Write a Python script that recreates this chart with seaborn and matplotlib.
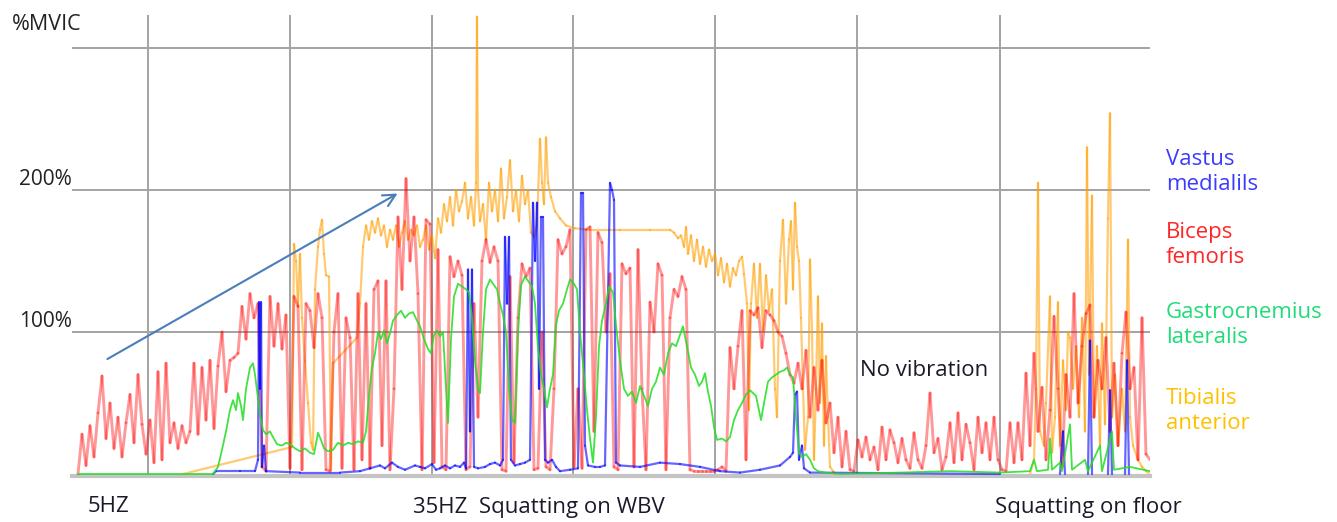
import numpy as np
import pandas as pd
import matplotlib
matplotlib.use("Agg")
import matplotlib.pyplot as plt
import seaborn as sns

# ---------------- data (sample index, %MVIC) ----------------
red_start, red_step = 78, 4
red_vals = [
    0, 28, 6, 34, 12, 43, 69, 25, 50, 18,
    40, 12, 36, 56, 22, 70, 35, 14, 38, 8,
    72, 10, 78, 22, 36, 18, 34, 22, 30, 78,
    28, 75, 38, 80, 32, 76, 100, 58, 80, 82,
    85, 118, 95, 127, 110, 120, 5, 2, 125, 90,
    120, 88, 112, 4, 125, 118, 3, 120, 115, 89,
    127, 110, 3, 2, 100, 127, 4, 110, 96, 3,
    127, 10, 120, 4, 130, 136, 20, 136, 3, 60,
    181, 130, 208, 150, 181, 127, 3, 179, 176, 8,
    158, 5, 3, 153, 139, 150, 140, 3, 5, 120,
    40, 150, 165, 149, 160, 150, 3, 2, 139, 8,
    110, 148, 139, 145, 3, 4, 100, 5, 3, 60,
    165, 155, 160, 172, 5, 60, 4, 172, 174, 30,
    170, 163, 100, 141, 5, 3, 148, 141, 145, 5,
    158, 60, 3, 121, 100, 148, 140, 3, 110, 130,
    125, 139, 130, 3, 2, 2, 2, 2, 2, 2,
    3, 5, 2, 89, 60, 90, 115, 10, 115, 112,
    117, 89, 115, 112, 108, 100, 97, 85, 70, 64,
    78, 60, 87, 40, 75, 45, 80, 36, 50, 15,
    40, 5, 30, 3, 2, 24, 12, 26, 10, 19,
    3, 33, 10, 31, 22, 8, 25, 10, 4, 29,
    10, 4, 20, 57, 15, 25, 3, 12, 36, 8,
    43, 10, 35, 22, 3, 40, 15, 36, 10, 40,
    10, 3, 2, 36, 8, 36, 10, 71, 20, 85,
    30, 61, 10, 45, 111, 60, 5, 70, 40, 127,
    50, 90, 113, 119, 40, 80, 60, 96, 30, 78,
    20, 85, 114, 60, 75, 10, 110, 14, 10,
]

orange_x = [78, 183, 292, 294, 296, 298, 300, 302, 305, 308, 311, 313, 315, 318, 320, 322, 324, 326, 329, 331,
            333, 357, 360, 363, 366, 369, 372, 375, 378, 381, 384, 387, 390, 393, 396, 399, 402, 405, 408, 411,
            414, 417, 420, 423, 426, 429, 432, 435, 438, 441, 444, 447, 450, 453, 456, 459, 462, 465, 468, 471,
            474, 476, 477, 478, 480, 483, 486, 489, 492, 495, 498, 501, 504, 507, 510, 513, 516, 519, 522, 525,
            528, 531, 534, 537, 540, 542, 544, 546, 548, 551, 555, 560, 566, 575, 590, 620, 650, 670, 674, 678,
            681, 684, 686, 688, 691, 694, 697, 700, 703, 706, 709, 712, 715, 718, 721, 724, 727, 730, 733, 736,
            739, 742, 744, 747, 749, 751, 754, 757, 760, 763, 766, 769, 772, 775, 777, 780, 783, 786, 789, 791,
            793, 795, 797, 799, 801, 803, 805, 808, 810, 812, 814, 816, 818, 820, 822, 824, 826, 828, 830, 833,
            836, 1030, 1034, 1036, 1038, 1040, 1044, 1046, 1050, 1052, 1055, 1058, 1060, 1063, 1066, 1068, 1070, 1073, 1076, 1079,
            1082, 1085, 1087, 1089, 1092, 1094, 1097, 1100, 1102, 1105, 1108, 1110, 1112, 1115, 1118, 1122, 1125, 1128, 1130, 1133,
            1138, 1142, 1146, 1150]
orange_y = [0, 0, 19, 162, 150, 118, 155, 110, 80, 50, 22, 17, 130, 160, 172, 179, 155, 140, 139, 3,
            78, 96, 120, 160, 175, 165, 178, 170, 180, 168, 175, 160, 172, 165, 175, 160, 170, 178, 165, 172,
            168, 175, 160, 165, 175, 158, 168, 152, 180, 170, 190, 178, 195, 175, 200, 185, 192, 205, 180, 195,
            175, 205, 322, 200, 178, 190, 165, 205, 185, 200, 178, 215, 180, 195, 221, 185, 200, 178, 210, 190,
            200, 170, 167, 175, 236, 205, 190, 237, 205, 195, 185, 180, 175, 173, 172, 172, 172, 172, 170, 166,
            168, 160, 174, 155, 168, 150, 165, 148, 160, 146, 158, 150, 155, 140, 152, 135, 148, 132, 145, 140,
            150, 153, 141, 120, 45, 120, 148, 110, 148, 101, 140, 115, 130, 60, 40, 150, 179, 120, 165, 178,
            130, 191, 160, 150, 110, 60, 17, 40, 151, 100, 10, 60, 125, 50, 106, 20, 83, 40, 5, 2,
            0, 0, 10, 60, 205, 30, 20, 50, 125, 15, 40, 121, 20, 80, 45, 100, 96, 60, 90, 40,
            110, 30, 230, 70, 196, 40, 90, 20, 106, 35, 180, 254, 40, 70, 20, 60, 30, 165, 40, 20,
            10, 5, 2, 0]

green_x = [78, 213, 218, 222, 226, 230, 233, 236, 238, 241, 243, 246, 250, 253, 255, 257, 260, 263, 266, 270,
           273, 277, 282, 286, 290, 295, 300, 305, 310, 314, 318, 321, 324, 328, 333, 338, 343, 348, 353, 358,
           363, 366, 369, 372, 375, 378, 381, 384, 387, 390, 393, 397, 401, 405, 409, 413, 417, 420, 424, 428,
           431, 434, 437, 440, 443, 446, 448, 451, 454, 458, 462, 466, 469, 472, 475, 478, 480, 483, 486, 490,
           494, 497, 500, 503, 506, 509, 512, 515, 518, 521, 525, 529, 532, 535, 538, 541, 544, 547, 550, 553,
           556, 559, 563, 567, 570, 574, 577, 580, 584, 587, 590, 593, 596, 599, 602, 606, 609, 613, 616, 620,
           624, 628, 632, 636, 640, 644, 648, 652, 656, 660, 664, 668, 672, 676, 680, 683, 687, 691, 695, 699,
           702, 705, 708, 711, 714, 717, 722, 726, 730, 734, 738, 742, 746, 750, 753, 756, 759, 761, 764, 768,
           772, 776, 780, 784, 787, 790, 793, 796, 799, 802, 806, 810, 814, 818, 825, 840, 900, 950, 1000, 1030,
           1034, 1037, 1048, 1050, 1052, 1060, 1062, 1070, 1072, 1085, 1088, 1100, 1102, 1112, 1114, 1130, 1150]
green_y = [0, 0, 5, 17, 30, 45, 52, 45, 57, 48, 38, 60, 75, 78, 70, 59, 42, 31, 28, 30,
           26, 21, 20, 22, 21, 18, 16, 18, 15, 14, 29, 24, 18, 16, 17, 22, 20, 22, 21, 23,
           22, 30, 55, 75, 85, 100, 95, 101, 92, 99, 108, 112, 115, 110, 113, 114, 108, 104, 95, 88,
           85, 98, 101, 97, 100, 60, 36, 95, 125, 134, 132, 130, 128, 110, 80, 60, 57, 100, 130, 137,
           133, 130, 120, 112, 100, 60, 38, 36, 100, 133, 139, 135, 132, 120, 89, 70, 60, 47, 60, 70,
           105, 115, 120, 130, 137, 134, 130, 100, 70, 45, 25, 8, 40, 90, 108, 120, 132, 128, 105, 80,
           60, 55, 58, 50, 62, 55, 48, 60, 65, 75, 70, 85, 92, 90, 98, 104, 90, 75, 70, 62,
           65, 71, 58, 48, 33, 24, 25, 23, 26, 38, 45, 50, 56, 59, 57, 55, 45, 38, 50, 65,
           68, 70, 72, 73, 75, 70, 68, 40, 15, 12, 14, 10, 4, 2, 1, 0, 1, 2, 1, 2,
           10, 2, 3, 25, 3, 8, 2, 35, 3, 10, 2, 20, 2, 30, 3, 5, 2]

blue_x = [213, 216, 240, 255, 258, 259, 260, 261, 262, 264, 266, 300, 340, 360, 370, 380, 385, 392, 398,
          405, 415, 420, 425, 432, 436, 440, 445, 450, 455, 460, 464, 466, 468, 470, 472, 474, 478, 485, 490,
          495, 500, 503, 505, 507, 509, 511, 515, 520, 525, 530, 533, 535, 537, 539, 541, 543, 545, 548, 552,
          556, 560, 570, 578, 581, 583, 585, 588, 595, 600, 605, 610, 612, 614, 616, 620, 640, 660, 680, 700,
          720, 740, 760, 780, 790, 793, 795, 797, 799, 802, 804, 810, 1000, 1060, 1063, 1065, 1088, 1090, 1092, 1108,
          1110, 1112, 1125, 1127, 1129, 1150]
blue_y = [0, 2, 2, 2, 10, 121, 60, 121, 5, 20, 2, 1, 1, 2, 4, 6, 4, 8, 5,
          3, 6, 5, 4, 7, 3, 4, 6, 4, 6, 5, 8, 4, 144, 30, 144, 5, 4, 5, 7,
          8, 6, 10, 167, 120, 167, 10, 6, 7, 8, 10, 191, 150, 191, 60, 181, 181, 10, 8, 10,
          5, 2, 3, 4, 198, 198, 20, 6, 5, 5, 6, 205, 200, 193, 8, 6, 5, 8, 7, 5,
          2, 1, 3, 6, 12, 15, 56, 58, 10, 20, 4, 1, 0, 0, 30, 0, 0, 94, 0, 0,
          59, 0, 0, 80, 0, 0]

y_ticks = [100, 200, 300]
y_tick_labels = ["100%", "200%", ""]
grid_x = [148, 290, 432, 573, 715, 857, 1000]

muscles = ["Vastus\nmedialils", "Biceps\nfemoris", "Gastrocnemius\nlateralis", "Tibialis\nanterior"]
muscle_colors = ["#3c3cff", "#ff2626", "#1fdc78", "#ffc000"]

# ---------------- build frames ----------------
red_x = red_start + red_step * np.arange(len(red_vals))


def segments(xs, ys, skip_flat_zero=False):
    xs = np.asarray(xs, float)
    ys = np.asarray(ys, float)
    rows = []
    for i in range(len(xs) - 1):
        if skip_flat_zero and ys[i] == 0 and ys[i + 1] == 0:
            continue
        rows.append((xs[i], ys[i], i))
        rows.append((xs[i + 1], ys[i + 1], i))
    return pd.DataFrame(rows, columns=["t", "v", "seg"])


df_red = segments(red_x, red_vals)
df_orange = segments(orange_x, orange_y, skip_flat_zero=True)
df_green = pd.DataFrame({"t": green_x, "v": green_y})
df_blue = segments(blue_x, blue_y, skip_flat_zero=True)

# ---------------- figure ----------------
sns.set_theme(style="white")
plt.rcParams["font.family"] = ["Open Sans", "DejaVu Sans"]

W, H = 1337, 522
fig = plt.figure(figsize=(W / 100, H / 100), dpi=100)
ax_left, ax_right, ax_top, ax_bottom = 72, 1150, 15, 476
ax = fig.add_axes([ax_left / W, 1 - ax_bottom / H, (ax_right - ax_left) / W, (ax_bottom - ax_top) / H])

sns.lineplot(data=df_orange, x="t", y="v", units="seg", estimator=None, sort=False,
             color="#ffa000", alpha=0.55, lw=1.6, ax=ax, zorder=2)
sns.lineplot(data=df_red, x="t", y="v", units="seg", estimator=None, sort=False,
             color="#ff0000", alpha=0.4, lw=2.1, ax=ax, zorder=3)
sns.lineplot(data=df_blue, x="t", y="v", units="seg", estimator=None, sort=False,
             color="#0000ff", alpha=0.6, lw=1.6, ax=ax, zorder=4)
sns.lineplot(data=df_green, x="t", y="v", estimator=None, sort=False,
             color="#22dd22", alpha=0.85, lw=1.3, ax=ax, zorder=5)

ax.set_xlim(ax_left, ax_right)
ax.set_ylim(-(ax_bottom - 474) / 1.42, (474 - ax_top) / 1.42)

for gx in grid_x:
    ax.axvline(gx, color="#a3a3a3", lw=1.4, zorder=1)
for gy in y_ticks:
    ax.axhline(gy, color="#a3a3a3", lw=1.4, zorder=1)

ax.set_yticks(y_ticks)
ax.set_yticklabels(y_tick_labels, fontsize=15, color="#222222")
ax.set_xticks([])
ax.tick_params(axis="y", length=0, pad=0)
for lab in ax.get_yticklabels():
    lab.set_verticalalignment("bottom")
ax.set_xlabel("")
ax.set_ylabel("")
for s in ["top", "right", "left"]:
    ax.spines[s].set_visible(False)
ax.spines["bottom"].set_color("#c4c4c4")
ax.spines["bottom"].set_linewidth(3)

fig.text(12 / W, 1 - 25 / H, "%MVIC", fontsize=15.5, color="#222222", va="center", ha="left")

# arrow annotation
ax.annotate("", xy=(400, 198.5), xytext=(105, 80),
            arrowprops=dict(arrowstyle="->", color="#4a7ebb", lw=1.5, mutation_scale=22), zorder=6)

ax.text(860, 73, "No vibration", fontsize=16, color="#1a1a2a", va="center", ha="left", zorder=7)

fig.text(88 / W, 1 - 507 / H, "5HZ", fontsize=16, color="#1a1a2a", va="center", ha="left")
fig.text(413 / W, 1 - 507 / H, "35HZ  Squatting on WBV", fontsize=16, color="#1a1a2a", va="center", ha="left")
fig.text(995 / W, 1 - 507 / H, "Squatting on floor", fontsize=16, color="#1a1a2a", va="center", ha="left")

label_y = [172, 245, 325, 411]
for name, col, yy in zip(muscles, muscle_colors, label_y):
    fig.text(1166 / W, 1 - yy / H, name, fontsize=16, color=col, va="center", ha="left", linespacing=1.3)

fig.savefig("out.png", dpi=100)
